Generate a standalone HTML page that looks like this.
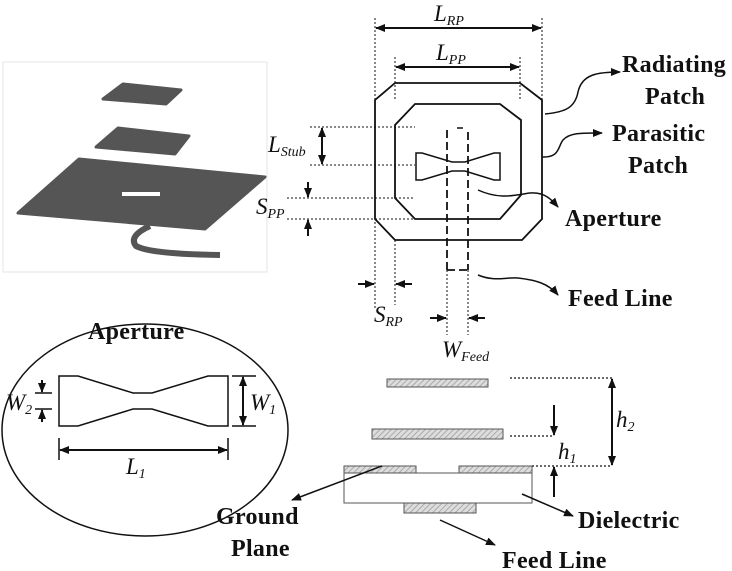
<!DOCTYPE html>
<html><head><meta charset="utf-8"><style>
html,body{margin:0;padding:0;background:#fff;}
svg{display:block;}
.b{font-family:"Liberation Serif",serif;font-weight:bold;font-size:24px;fill:#111;letter-spacing:0.3px;}
.i{font-family:"Liberation Serif",serif;font-style:italic;font-size:23px;fill:#111;}
.s{font-size:14px;}
</style></head><body>
<svg width="732" height="571" viewBox="0 0 732 571" xmlns="http://www.w3.org/2000/svg">
<defs>
<marker id="a" markerWidth="10" markerHeight="8" refX="9" refY="4" orient="auto" markerUnits="userSpaceOnUse"><path d="M0,0L10,4L0,8z" fill="#111"/></marker>
<pattern id="h" width="4" height="4" patternUnits="userSpaceOnUse" patternTransform="rotate(45)"><rect width="4" height="4" fill="#ddd"/><line x1="0" y1="0" x2="0" y2="4" stroke="#999" stroke-width="1.5"/></pattern>
</defs>
<!-- 3D panel -->
<rect x="3" y="62" width="264" height="210" fill="#fff" stroke="#e6e6e6"/>
<g stroke="#555" stroke-width="3" stroke-linejoin="round">
<polygon points="123,84 181,90 166,104 103,99" fill="#555"/>
<polygon points="118,128 189,136 175,154 96,147" fill="#555"/>
<polygon points="79,159 265,177 205,229 18,213" fill="#555"/>
</g>
<rect x="122" y="192" width="38" height="4" fill="#fff"/>
<path d="M150,226 Q128,236 136,246 Q150,254 220,255" stroke="#555" stroke-width="6" fill="none"/>

<g stroke="#111" fill="none">
<g stroke-dasharray="2,2" stroke-width="1">
<line x1="375" y1="18" x2="375" y2="310"/><line x1="542" y1="18" x2="542" y2="100"/>
<line x1="395" y1="57" x2="395" y2="100"/><line x1="520" y1="57" x2="520" y2="100"/>
<line x1="395" y1="240" x2="395" y2="305"/>
<line x1="310" y1="127" x2="415" y2="127"/><line x1="310" y1="165" x2="415" y2="165"/>
<line x1="287" y1="198" x2="415" y2="198"/><line x1="287" y1="219" x2="415" y2="219"/>
<line x1="447" y1="270" x2="447" y2="335"/><line x1="468" y1="270" x2="468" y2="335"/>
</g>
<g stroke-width="2">
<line x1="376" y1="28" x2="541" y2="28" marker-end="url(#a)"/>
<line x1="541" y1="28" x2="376" y2="28" marker-end="url(#a)"/>
<line x1="396" y1="67" x2="519" y2="67" marker-end="url(#a)"/>
<line x1="519" y1="67" x2="396" y2="67" marker-end="url(#a)"/>
<line x1="322" y1="146" x2="322" y2="128" marker-end="url(#a)"/>
<line x1="322" y1="146" x2="322" y2="164" marker-end="url(#a)"/>
<line x1="308" y1="182" x2="308" y2="197" marker-end="url(#a)"/>
<line x1="308" y1="236" x2="308" y2="220" marker-end="url(#a)"/>
<line x1="358" y1="284" x2="374" y2="284" marker-end="url(#a)"/>
<line x1="412" y1="284" x2="396" y2="284" marker-end="url(#a)"/>
<line x1="430" y1="318" x2="446" y2="318" marker-end="url(#a)"/>
<line x1="485" y1="318" x2="469" y2="318" marker-end="url(#a)"/>
</g>
<polygon stroke-width="1.8" points="395,83 520,83 542,100 542,219 522,240 395,240 375,219 375,100"/>
<polygon stroke-width="1.8" points="415,104 500,104 521,120 521,195 500,219 415,219 395,198 395,125"/>
<path stroke-width="1.5" d="M416,153 L422,153 L452,162 L465,162 L494,153 L500,153 L500,180 L494,180 L465,171 L452,171 L422,180 L416,180 Z"/>
<g stroke-width="1.8" stroke-dasharray="8,4">
<line x1="447" y1="130" x2="447" y2="270"/><line x1="468" y1="132" x2="468" y2="270"/>
<line x1="447" y1="270" x2="468" y2="270"/>
</g>
<line x1="457" y1="128" x2="463" y2="128" stroke-width="1.5"/>
<g stroke-width="1.5">
<path d="M545,114 C565,112 575,108 578,92 C582,74 598,72 620,72" marker-end="url(#a)"/>
<path d="M542,157 C560,158 558,146 563,140 C570,132 585,133 602,133" marker-end="url(#a)"/>
<path d="M478,190 C500,200 515,195 530,193 C545,192 552,200 558,207" marker-end="url(#a)"/>
<path d="M478,275 C495,282 505,277 518,278 C535,280 548,283 558,295" marker-end="url(#a)"/>
</g>
<ellipse cx="145" cy="430" rx="143" ry="106" stroke-width="1.5"/>
<path stroke-width="1.5" d="M59,376 L78,376 L133,393 L152,393 L208,376 L228,376 L228,426 L208,426 L152,409 L133,409 L78,426 L59,426 Z"/>
<g stroke-width="1.5">
<line x1="232" y1="376" x2="256" y2="376"/><line x1="232" y1="426" x2="256" y2="426"/>
<line x1="35" y1="393" x2="52" y2="393"/><line x1="35" y1="409" x2="52" y2="409"/>
<line x1="59" y1="438" x2="59" y2="460"/><line x1="228" y1="438" x2="228" y2="460"/>
</g>
<g stroke-width="2">
<line x1="243" y1="401" x2="243" y2="377" marker-end="url(#a)"/>
<line x1="243" y1="401" x2="243" y2="425" marker-end="url(#a)"/>
<line x1="42" y1="380" x2="42" y2="392" marker-end="url(#a)"/>
<line x1="42" y1="422" x2="42" y2="410" marker-end="url(#a)"/>
<line x1="60" y1="450" x2="227" y2="450" marker-end="url(#a)"/>
<line x1="227" y1="450" x2="60" y2="450" marker-end="url(#a)"/>
</g>
<rect x="387" y="379" width="101" height="8" fill="url(#h)" stroke="#555"/>
<rect x="372" y="429" width="131" height="10" fill="url(#h)" stroke="#555"/>
<rect x="344" y="466" width="72" height="7" fill="url(#h)" stroke="#555"/>
<rect x="459" y="466" width="73" height="7" fill="url(#h)" stroke="#555"/>
<rect x="344" y="473" width="188" height="30" stroke="#555" stroke-width="1"/>
<rect x="404" y="503" width="72" height="10" fill="url(#h)" stroke="#555"/>
<g stroke-dasharray="2,2" stroke-width="1.2">
<line x1="510" y1="378" x2="612" y2="378"/><line x1="532" y1="466" x2="612" y2="466"/>
<line x1="510" y1="436" x2="553" y2="436"/>
</g>
<g stroke-width="2">
<line x1="612" y1="420" x2="612" y2="379" marker-end="url(#a)"/>
<line x1="612" y1="420" x2="612" y2="465" marker-end="url(#a)"/>
<line x1="554" y1="405" x2="554" y2="435" marker-end="url(#a)"/>
<line x1="554" y1="497" x2="554" y2="467" marker-end="url(#a)"/>
</g>
<g stroke-width="1.5">
<line x1="382" y1="466" x2="292" y2="500" marker-end="url(#a)"/>
<line x1="522" y1="494" x2="573" y2="516" marker-end="url(#a)"/>
<line x1="440" y1="520" x2="495" y2="545" marker-end="url(#a)"/>
</g>
</g>
<text class="b" x="622" y="72">Radiating</text>
<text class="b" x="645" y="104">Patch</text>
<text class="b" x="612" y="141">Parasitic</text>
<text class="b" x="628" y="173">Patch</text>
<text class="b" x="565" y="226">Aperture</text>
<text class="b" x="568" y="306">Feed Line</text>
<text class="b" x="88" y="339">Aperture</text>
<text class="b" x="216" y="524">Ground</text>
<text class="b" x="231" y="556">Plane</text>
<text class="b" x="578" y="528">Dielectric</text>
<text class="b" x="502" y="568">Feed Line</text>
<text class="i" x="434" y="21">L<tspan class="s" dy="4">RP</tspan></text>
<text class="i" x="436" y="60">L<tspan class="s" dy="4">PP</tspan></text>
<text class="i" x="268" y="152">L<tspan class="s" dy="4">Stub</tspan></text>
<text class="i" x="256" y="214">S<tspan class="s" dy="4">PP</tspan></text>
<text class="i" x="374" y="322">S<tspan class="s" dy="4">RP</tspan></text>
<text class="i" x="442" y="357">W<tspan class="s" dy="4">Feed</tspan></text>
<text class="i" x="6" y="410">W<tspan class="s" dy="4">2</tspan></text>
<text class="i" x="250" y="410">W<tspan class="s" dy="4">1</tspan></text>
<text class="i" x="126" y="474">L<tspan class="s" dy="4">1</tspan></text>
<text class="i" x="616" y="427">h<tspan class="s" dy="4">2</tspan></text>
<text class="i" x="558" y="459">h<tspan class="s" dy="4">1</tspan></text>
</svg>
</body></html>
